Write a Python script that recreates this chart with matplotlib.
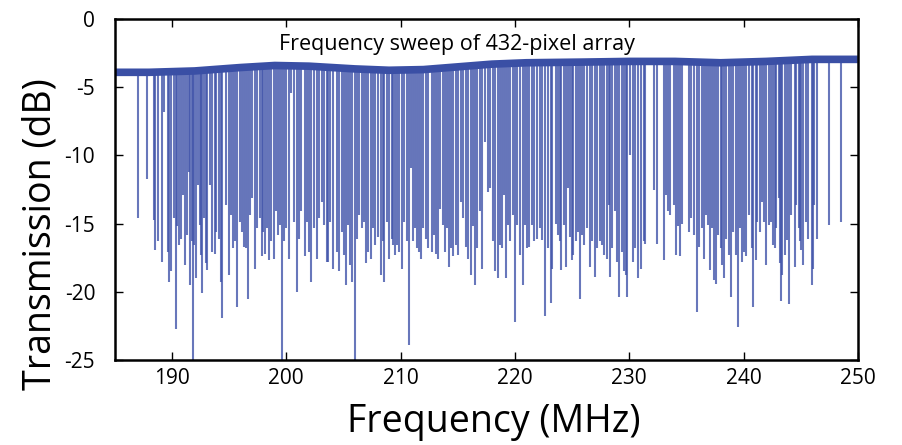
import numpy as np
import matplotlib
matplotlib.use("Agg")
import matplotlib.pyplot as plt

plt.rcParams['font.family'] = ['Open Sans', 'DejaVu Sans']

# baseline of the sweep (MHz, dB)
base_f = [185, 188, 192, 196, 199, 202, 206, 209, 212, 215, 218, 221, 226, 230, 234, 238, 242, 246, 250]
base_db = [-3.9, -3.9, -3.8, -3.55, -3.4, -3.45, -3.65, -3.75, -3.7, -3.5, -3.3, -3.2, -3.15, -3.1,
           -3.1, -3.2, -3.1, -2.95, -2.95]

# resonance dips: frequency (MHz) and minimum (dB)
dip_f = [
    187.0, 187.83, 188.41, 188.53, 188.8, 189.17, 189.29, 189.66, 189.75, 189.9,
    190.19, 190.34, 190.48, 190.63, 190.77, 190.95, 191.15, 191.33, 191.47, 191.59,
    191.73, 191.85, 191.97, 192.08, 192.26, 192.43, 192.58, 192.64, 192.78, 192.99,
    193.1, 193.31, 193.54, 193.75, 193.89, 194.1, 194.27,
    194.42, 194.71, 195.0, 195.14, 195.35, 195.52, 195.73, 195.96, 196.11, 196.31,
    196.46, 196.63, 196.84, 197.04, 197.27, 197.48, 197.71, 197.86, 198.0, 198.18,
    198.35, 198.53, 198.7, 198.94, 199.14, 199.28, 199.46, 199.6, 199.81, 199.98,
    200.28, 200.45, 200.68, 200.92, 201.12, 201.33, 201.62, 201.85, 202.0, 202.2,
    202.43, 202.67, 202.9, 203.1, 203.31, 203.54,
    203.64, 203.84, 204.13, 204.42, 204.63, 204.86, 205.04, 205.21, 205.42, 205.59,
    205.77, 206.0, 206.17, 206.38, 206.61, 206.82, 206.99, 207.19, 207.4, 207.57,
    207.81, 208.01, 208.27, 208.45, 208.59, 208.8, 209.03, 209.24, 209.38, 209.56,
    209.73, 209.91, 210.17, 210.34, 210.55, 210.75, 210.9, 211.07, 211.28, 211.42,
    211.63, 211.8, 212.0, 212.21, 212.44, 212.73,
    212.91, 213.11, 213.32, 213.46, 213.69, 213.9, 214.04, 214.22, 214.42, 214.63,
    214.86, 215.06, 215.3, 215.5, 215.74, 215.91, 216.14, 216.32, 216.52, 216.73,
    216.93, 217.16, 217.4, 217.63, 217.86, 218.07, 218.27, 218.51, 218.68, 218.88,
    219.06, 219.23, 219.41, 219.58, 219.82, 220.02, 220.23, 220.46, 220.69, 220.87,
    221.07, 221.27, 221.51, 221.71, 221.95,
    222.16, 222.39, 222.68, 222.92, 223.15, 223.27, 223.56, 223.76, 223.91, 224.05,
    224.29, 224.49, 224.67, 224.78, 224.96, 225.1, 225.31, 225.51, 225.69, 225.89,
    226.09, 226.33, 226.53, 226.76, 226.97, 227.2, 227.41, 227.64, 227.84, 228.08,
    228.22, 228.34, 228.51, 228.75, 228.92, 229.1, 229.33, 229.53, 229.68, 229.83,
    230.03, 230.35, 230.55, 230.76, 230.99, 231.28,
    231.37, 232.19, 232.39, 233.06, 233.24, 233.41, 233.56, 233.94, 234.11, 234.29,
    234.46, 234.64, 235.22, 235.45, 235.66, 235.92, 236.09, 236.33, 236.53, 236.71,
    236.85, 237.03, 237.2, 237.41, 237.58, 237.78, 237.99, 238.16, 238.31, 238.48,
    238.72, 238.89, 239.1, 239.3, 239.5, 239.68, 239.83, 240.03, 240.2, 240.47,
    240.73, 240.84, 241.05, 241.22, 241.4, 241.6, 241.81, 242.01, 242.19, 242.39,
    242.59, 242.74, 242.88, 243.09, 243.2, 243.29, 243.38, 243.61, 243.79, 243.96,
    244.14, 244.46, 244.63, 244.81, 244.95, 245.07, 245.22, 245.45, 245.63, 245.95,
    246.06, 246.18, 246.47, 247.46, 248.51,
]
dip_db = [
    -14.6, -11.7, -14.7, -16.9, -16.3, -17.8, -6.8, -17.1, -19.3, -18.5,
    -14.6, -22.7, -15.2, -16.6, -16.1, -12.9, -18.0, -15.8, -11.2, -19.5,
    -16.3, -25.0, -16.6, -19.0, -12.2, -15.1, -17.3, -20.1, -14.6, -17.9,
    -18.4, -12.2, -17.1, -17.2, -15.6, -16.1, -19.3,
    -21.9, -13.6, -18.8, -14.4, -16.8, -16.3, -21.1, -14.9, -15.6, -16.7,
    -16.8, -20.5, -14.4, -13.1, -18.3, -15.3, -14.6, -17.4, -15.6, -17.2,
    -15.3, -17.7, -16.3, -17.6, -14.1, -15.8, -15.1, -25.0, -16.3, -15.3,
    -17.6, -5.4, -14.9, -20.0, -16.1, -14.1, -17.4, -14.9, -17.1, -19.3,
    -15.3, -17.6, -14.6, -13.4, -15.1, -17.8,
    -17.8, -14.9, -18.3, -17.1, -18.5, -15.6, -17.3, -19.5, -15.1, -18.0,
    -19.3, -25.0, -16.1, -14.4, -15.3, -14.9, -17.9, -17.1, -17.6, -15.3,
    -16.6, -16.0, -18.8, -16.3, -19.3, -14.9, -17.6, -16.1, -16.6, -17.3,
    -16.6, -17.1, -18.3, -14.9, -16.3, -23.9, -10.9, -16.3, -15.3, -16.8,
    -17.1, -17.6, -15.3, -16.1, -16.8, -17.1,
    -15.8, -17.2, -17.6, -13.9, -15.1, -17.1, -15.3, -18.2, -16.8, -17.4,
    -16.6, -17.3, -13.4, -14.6, -16.7, -17.6, -18.8, -15.2, -19.5, -16.8,
    -14.1, -18.3, -9.0, -12.7, -12.4, -16.3, -18.5, -19.0, -16.6, -16.8,
    -12.9, -19.0, -15.1, -16.3, -14.4, -22.2, -15.1, -17.3, -19.5, -15.1,
    -16.8, -16.7, -15.1, -16.3, -16.1,
    -15.3, -16.2, -21.8, -16.8, -20.8, -18.3, -15.0, -15.8, -16.3, -18.4,
    -15.1, -18.2, -12.4, -16.0, -17.7, -17.3, -16.3, -15.6, -20.5, -15.8,
    -16.6, -15.3, -18.2, -16.3, -18.9, -16.8, -16.3, -16.6, -17.3, -17.6,
    -13.6, -18.9, -16.8, -14.1, -17.8, -20.4, -17.1, -18.5, -18.8, -20.4,
    -10.0, -17.8, -16.8, -19.0, -18.3, -16.3,
    -16.5, -12.5, -16.5, -17.7, -12.9, -14.1, -14.4, -13.6, -17.3, -15.2,
    -17.4, -15.0, -15.6, -14.6, -15.8, -21.5, -16.7, -15.3, -17.6, -14.4,
    -15.1, -18.4, -15.3, -19.1, -19.4, -15.8, -16.8, -18.0, -19.0, -16.1,
    -17.3, -20.4, -15.6, -17.3, -22.6, -15.3, -17.8, -17.1, -17.4, -14.4,
    -16.8, -21.1, -17.7, -14.9, -15.6, -13.4, -14.9, -18.0, -15.1, -14.9,
    -16.6, -16.8, -15.3, -13.1, -17.9, -20.7, -18.8, -17.3, -16.2, -20.9,
    -14.4, -18.2, -13.6, -15.3, -16.3, -16.9, -18.0, -14.9, -16.1, -19.5,
    -18.3, -13.6, -16.1, -15.1, -14.9,
]

xticks = [190, 200, 210, 220, 230, 240, 250]
yticks = [0, -5, -10, -15, -20, -25]
ytick_labels = ['0', '-5', '-10', '-15', '-20', '-25']

line_col = '#3a4fa5'

fig = plt.figure(figsize=(9.03, 4.45), dpi=100)
ax = fig.add_axes([0.127, 0.191, 0.823, 0.766])

# dips hang from the baseline
tops = np.interp(dip_f, base_f, base_db)
ax.vlines(dip_f, dip_db, tops, color='#4255aa', linewidth=1.5, alpha=0.8)
ax.plot(base_f, base_db, color=line_col, linewidth=5.5, solid_capstyle='butt')

ax.set_xlim(185, 250)
ax.set_ylim(-25, 0)
ax.set_xticks(xticks)
ax.set_yticks(yticks)
ax.set_yticklabels(ytick_labels)
ax.tick_params(direction='in', top=True, right=True, length=6, width=1,
               labelsize=15, pad=6)
ax.tick_params(axis='y', pad=14)
for sp in ax.spines.values():
    sp.set_linewidth(1.8)

ax.set_xlabel('Frequency (MHz)', fontsize=27)
ax.xaxis.set_label_coords(0.51, -0.125)
ax.set_ylabel('Transmission (dB)', fontsize=27)
ax.yaxis.set_label_coords(-0.074, 0.37)
ax.text(0.46, 0.925, 'Frequency sweep of 432-pixel array', transform=ax.transAxes,
        ha='center', va='center', fontsize=15.5)

fig.savefig('out.png', dpi=100)
